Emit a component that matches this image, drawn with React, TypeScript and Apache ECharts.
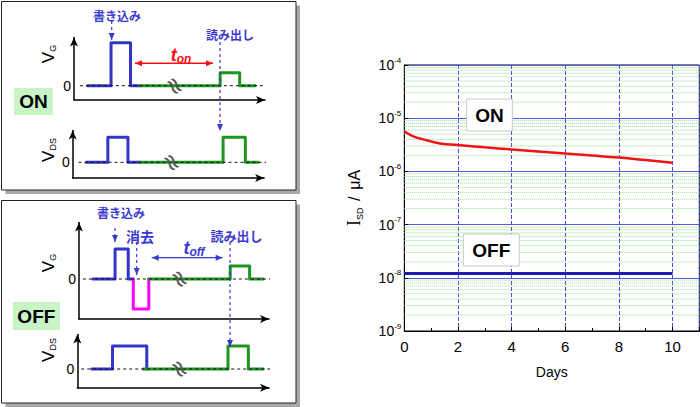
import React, { useEffect, useRef } from 'react';
import * as echarts from 'echarts';

// ---------- main chart data ----------
const onDays = [0, 0.33, 0.83, 1.33, 2, 3, 4, 5, 6, 7, 8, 9, 10];
const onCurrent = [5.66e-6, 4.57e-6, 3.86e-6, 3.35e-6, 3.12e-6, 2.83e-6, 2.59e-6, 2.37e-6, 2.16e-6, 1.99e-6, 1.82e-6, 1.63e-6, 1.45e-6];
const offDays = [0, 1, 2, 3, 4, 5, 6, 7, 8, 9, 10];
const offCurrent = [1.2e-8, 1.2e-8, 1.2e-8, 1.2e-8, 1.2e-8, 1.2e-8, 1.2e-8, 1.2e-8, 1.2e-8, 1.2e-8, 1.2e-8];
const xTickDays = [0, 2, 4, 6, 8, 10];
const yDecades = [-9, -8, -7, -6, -5, -4];

// ---------- pulse schematic data (time units, voltage units) ----------
const onVgWrite = [[7, 0], [19, 0], [19, 3], [29, 3], [29, 0], [34, 0]];
const onVgRead = [[34, 0], [75, 0], [75, 0.9], [85, 0.9], [85, 0], [93, 0]];
const onVdsWrite = [[7, 0], [18, 0], [18, 1.6], [28.3, 1.6], [28.3, 0], [34.5, 0]];
const onVdsRead = [[34.5, 0], [77, 0], [77, 1.6], [88.4, 1.6], [88.4, 0], [95, 0]];
const offVgWrite = [[7.2, 0], [18.6, 0], [18.6, 3], [25.4, 3], [25.4, 0], [28, 0]];
const offVgErase = [[28, 0], [28, -3], [36, -3], [36, 0]];
const offVgRead = [[36, 0], [78, 0], [78, 1.3], [88, 1.3], [88, 0], [95, 0]];
const offVdsWrite = [[7.4, 0], [18, 0], [18, 1.6], [35.5, 1.6], [35.5, 0]];
const offVdsRead = [[33.7, 0], [77, 0], [77, 1.6], [87.4, 1.6], [87.4, 0], [95, 0]];

const BLUE = '#3434c8';
const GREEN = '#1f951f';
const MAGENTA = '#ff00ff';
const LBLUE = '#3a3ad0';
const SANS = 'Liberation Sans, Arial, sans-serif';
const CJK = 'Noto Sans CJK JP, sans-serif';

function arrow(x1: number, y1: number, x2: number, y2: number, color: string, dashed: boolean, both: boolean, width = 1.2) {
  const els: any[] = [];
  els.push({
    type: 'line', z: 20, silent: true,
    shape: { x1, y1, x2, y2 },
    style: { stroke: color, lineWidth: width, lineDash: dashed ? [3, 3] : null },
  });
  const head = (tx: number, ty: number, fx: number, fy: number) => {
    const dx = tx - fx, dy = ty - fy;
    const L = Math.sqrt(dx * dx + dy * dy) || 1;
    const ux = dx / L, uy = dy / L;
    const hl = 7, hw = 3;
    const bx = tx - ux * hl, by = ty - uy * hl;
    return {
      type: 'polygon', z: 21, silent: true,
      shape: { points: [[tx, ty], [bx - uy * hw, by + ux * hw], [bx + uy * hw, by - ux * hw]] },
      style: { fill: color },
    };
  };
  els.push(head(x2, y2, x1, y1));
  if (both) els.push(head(x1, y1, x2, y2));
  return els;
}

function vLabel(x: number, y: number, sub: string) {
  return {
    type: 'text', z: 20, x, y, rotation: Math.PI / 2, silent: true,
    style: {
      text: `{v|V}{s|${sub}}`, align: 'center', verticalAlign: 'middle',
      rich: {
        v: { fontSize: 17, fontFamily: SANS, fill: '#000', lineHeight: 19 },
        s: { fontSize: 9, fontFamily: SANS, fill: '#000', verticalAlign: 'bottom', lineHeight: 12 },
      },
    },
  };
}

function cjk(x: number, y: number, text: string, size: number) {
  return {
    type: 'text', z: 20, x, y, silent: true,
    style: { text, align: 'center', verticalAlign: 'middle', fontSize: size, fontWeight: 'bold', fontFamily: CJK, fill: LBLUE },
  };
}

function breakMark(x: number, y: number) {
  return {
    type: 'text', z: 20, x, y, rotation: -1.0, silent: true,
    style: { text: '≈', align: 'center', verticalAlign: 'middle', fontSize: 24, fontFamily: 'DejaVu Sans, sans-serif', fill: '#555' },
  };
}

function tLabel(x: number, y: number, sub: string, color: string) {
  return {
    type: 'text', z: 20, x, y, silent: true,
    style: {
      text: `{t|t}{s|${sub}}`, align: 'center', verticalAlign: 'middle',
      rich: {
        t: { fontSize: 18, fontStyle: 'italic', fontWeight: 'bold', fontFamily: SANS, fill: color, lineHeight: 20 },
        s: { fontSize: 12, fontStyle: 'italic', fontWeight: 'bold', fontFamily: SANS, fill: color, verticalAlign: 'bottom', lineHeight: 14 },
      },
    },
  };
}

function stateBox(x: number, y: number, w: number, h: number, text: string, fill: string, stroke: string | null, size: number) {
  return [
    { type: 'rect', z: 15, silent: true, shape: { x, y, width: w, height: h }, style: { fill, stroke: stroke || 'none', lineWidth: 1 } },
    {
      type: 'text', z: 16, silent: true, x: x + w / 2, y: y + h / 2,
      style: { text, align: 'center', verticalAlign: 'middle', fontSize: size, fontWeight: 'bold', fontFamily: SANS, fill: '#000' },
    },
  ];
}

function panelFrame(x: number, y: number, w: number, h: number) {
  return [
    { type: 'rect', z: 1, silent: true, shape: { x: x + w, y: y + 4, width: 4, height: h }, style: { fill: '#a8a8a8' } },
    { type: 'rect', z: 1, silent: true, shape: { x: x + 4, y: y + h, width: w, height: 4 }, style: { fill: '#a8a8a8' } },
    { type: 'rect', z: 2, silent: true, shape: { x, y, width: w, height: h }, style: { fill: 'none', stroke: '#222', lineWidth: 1 } },
  ];
}

export default function App() {
  const ref = useRef<HTMLDivElement>(null);
  useEffect(() => {
    document.body.style.margin = '0';
    if (!ref.current) return;
    const chart = echarts.init(ref.current, undefined, { renderer: 'svg' });

    const smallGrids = [
      { left: 74, top: 37.5, width: 191, height: 62.5, min: -1, max: 3.37, interval: 1 },
      { left: 72.7, top: 130.5, width: 191.4, height: 47.5, min: -1, max: 2.03, interval: 1 },
      { left: 79, top: 222.5, width: 190, height: 96.5, min: -4, max: 5.65, interval: 1 },
      { left: 77.3, top: 334.5, width: 191.8, height: 53.2, min: -1.3, max: 2.4, interval: 1.3 },
    ];

    const grids: any[] = smallGrids.map((g) => ({ left: g.left, top: g.top, width: g.width, height: g.height, containLabel: false }));
    grids.push({ left: 404.3, top: 65, width: 295, height: 266, show: true, borderColor: '#000', borderWidth: 1, backgroundColor: 'transparent' });

    const xAxes: any[] = smallGrids.map((g, i) => ({
      type: 'value', gridIndex: i, min: 0, max: 98,
      axisLine: { show: true, onZero: false, symbol: ['none', 'arrow'], symbolSize: [6, 9], lineStyle: { color: '#000', width: 1.5 } },
      axisTick: { show: false }, axisLabel: { show: false }, splitLine: { show: false },
    }));
    xAxes.push({
      type: 'value', gridIndex: 4, min: 0, max: 11, interval: 2,
      name: 'Days', nameLocation: 'middle', nameGap: 34,
      nameTextStyle: { fontSize: 14, fontFamily: SANS, color: '#000' },
      axisLine: { show: true, onZero: false, lineStyle: { color: '#000', width: 1 } },
      axisTick: { show: true, inside: true, length: 4, lineStyle: { color: '#000' } },
      minorTick: { show: true, splitNumber: 2, length: 3, lineStyle: { color: '#000' } },
      axisLabel: {
        show: true, showMaxLabel: false, margin: 8, fontSize: 15, fontFamily: SANS, color: '#000',
        formatter: (v: number) => (xTickDays.indexOf(v) >= 0 ? String(v) : ''),
      },
      splitLine: { show: true, lineStyle: { color: '#4848dc', width: 1, type: [4, 2] } },
    });

    const yAxes: any[] = smallGrids.map((g, i) => ({
      type: 'value', gridIndex: i, min: g.min, max: g.max, interval: g.interval,
      axisLine: { show: true, onZero: false, symbol: ['none', 'arrow'], symbolSize: [6, 9], lineStyle: { color: '#000', width: 1.5 } },
      axisTick: { show: false }, splitLine: { show: false },
      axisLabel: {
        show: true, margin: 3, fontSize: 14, fontFamily: SANS, color: '#000',
        showMinLabel: true, showMaxLabel: false,
        formatter: (v: number) => (Math.abs(v) < 1e-9 ? '0' : ''),
      },
    }));
    yAxes.push({
      type: 'log', logBase: 10, gridIndex: 4, min: 1e-9, max: 1e-4, splitNumber: 5,
      name: '{i|I}{sub|SD}  {n|/}  {n|μA}', nameLocation: 'middle', nameGap: 40, nameRotate: 90,
      nameTextStyle: {
        color: '#000',
        rich: {
          i: { fontSize: 18, fontFamily: 'Liberation Serif, serif', color: '#000', lineHeight: 20 },
          sub: { fontSize: 9, fontFamily: SANS, color: '#000', verticalAlign: 'bottom', lineHeight: 12 },
          n: { fontSize: 16, fontFamily: SANS, color: '#000', lineHeight: 20 },
        },
      },
      axisLine: { show: true, lineStyle: { color: '#000', width: 1 } },
      axisTick: { show: true, inside: true, length: 4, lineStyle: { color: '#000' } },
      axisLabel: {
        show: true, margin: 3, color: '#000',
        formatter: (v: number) => {
          const e = Math.round(Math.log10(v));
          return yDecades.indexOf(e) >= 0 ? `{b|10}{s|${e}}` : '';
        },
        rich: {
          b: { fontSize: 14, fontFamily: SANS, color: '#000', lineHeight: 18 },
          s: { fontSize: 8, fontFamily: SANS, color: '#000', verticalAlign: 'top', lineHeight: 18 },
        },
      },
      splitLine: { show: true, lineStyle: { color: '#5a5ad8', width: 1 } },
    });

    // minor logarithmic grid lines (2..9 × each decade), drawn as thin dotted lines across the plot
    const minorVals: number[] = [];
    for (let e = -9; e < -4; e++) for (let k = 2; k <= 9; k++) minorVals.push(k * Math.pow(10, e));
    const minorSeries = minorVals.map((v) => ({
      type: 'line', xAxisIndex: 4, yAxisIndex: 4, data: [[0, v], [11, v]], showSymbol: false, silent: true, z: 1,
      lineStyle: { color: '#8fdc8f', width: 1, type: [1, 1] },
    }));

    const pulse = (data: number[][], color: string, gi: number) => ({
      type: 'line', xAxisIndex: gi, yAxisIndex: gi, data, showSymbol: false, silent: true, z: 3, clip: false,
      lineStyle: { color, width: 3, join: 'round', cap: 'round' },
    });
    const zero = (gi: number, x0: number, x1: number) => ({
      type: 'line', xAxisIndex: gi, yAxisIndex: gi, data: [[x0, 0], [x1, 0]], showSymbol: false, silent: true, z: 4, clip: false,
      lineStyle: { color: '#111', width: 1, type: [3, 3] },
    });

    const series: any[] = [
      pulse(onVgWrite, BLUE, 0), pulse(onVgRead, GREEN, 0), zero(0, 3, 104),
      pulse(onVdsWrite, BLUE, 1), pulse(onVdsRead, GREEN, 1), zero(1, 3, 103.6),
      pulse(offVgWrite, BLUE, 2), pulse(offVgErase, MAGENTA, 2), pulse(offVgRead, GREEN, 2), zero(2, 2, 103.6),
      pulse(offVdsWrite, BLUE, 3), pulse(offVdsRead, GREEN, 3), zero(3, 2, 103.5),
      ...minorSeries,
      {
        type: 'line', name: 'ON', xAxisIndex: 4, yAxisIndex: 4, smooth: true, showSymbol: false, z: 5,
        data: onDays.map((d, i) => [d, onCurrent[i]]),
        lineStyle: { color: '#f01414', width: 2.5 },
      },
      {
        type: 'line', name: 'OFF', xAxisIndex: 4, yAxisIndex: 4, showSymbol: false, z: 5,
        data: offDays.map((d, i) => [d, offCurrent[i]]),
        lineStyle: { color: '#1c1cb4', width: 3 },
      },
    ];

    const graphic: any[] = [
      ...panelFrame(1.5, 1.5, 294.5, 188.5),
      ...panelFrame(1.5, 200.5, 294.5, 202.5),
      ...stateBox(14, 88, 39, 27, 'ON', '#c8f4c8', null, 19),
      ...stateBox(12.7, 302, 47.3, 28, 'OFF', '#c8f4c8', null, 19),
      vLabel(48, 54, 'G'), vLabel(48, 150, 'DS'), vLabel(48, 263, 'G'), vLabel(48, 350, 'DS'),
      cjk(117, 15, '書き込み', 12), cjk(230, 34, '読み出し', 12),
      cjk(121, 212.5, '書き込み', 12), cjk(140, 235.5, '消去', 14), cjk(236.5, 235, '読み出し', 13),
      tLabel(181, 55, 'on', '#ff1010'), tLabel(194, 248, 'off', LBLUE),
      ...arrow(111.7, 21, 111.7, 40, LBLUE, true, false),
      ...arrow(220, 42, 220, 131, LBLUE, true, false),
      ...arrow(135, 63.3, 213, 63.3, '#ff1010', false, true, 1.5),
      ...arrow(115, 228, 115, 242, LBLUE, true, false),
      ...arrow(136.7, 242, 136.7, 275, LBLUE, true, false),
      ...arrow(230, 242, 230, 347, LBLUE, true, false),
      ...arrow(151.7, 257.7, 222.7, 257.7, LBLUE, false, true, 1.2),
      breakMark(175, 86), breakMark(172, 162.3), breakMark(180, 279), breakMark(180, 369),
      ...stateBox(466.7, 99, 45.6, 32, 'ON', '#fff', '#c8c8c8', 19),
      ...stateBox(463.3, 234, 56, 32, 'OFF', '#fff', '#c8c8c8', 19),
    ];

    chart.setOption({
      animation: false,
      backgroundColor: '#fff',
      grid: grids,
      xAxis: xAxes,
      yAxis: yAxes,
      series,
      graphic: { elements: graphic },
    });
    return () => chart.dispose();
  }, []);
  return <div ref={ref} style={{ width: 700, height: 407 }} />;
}
